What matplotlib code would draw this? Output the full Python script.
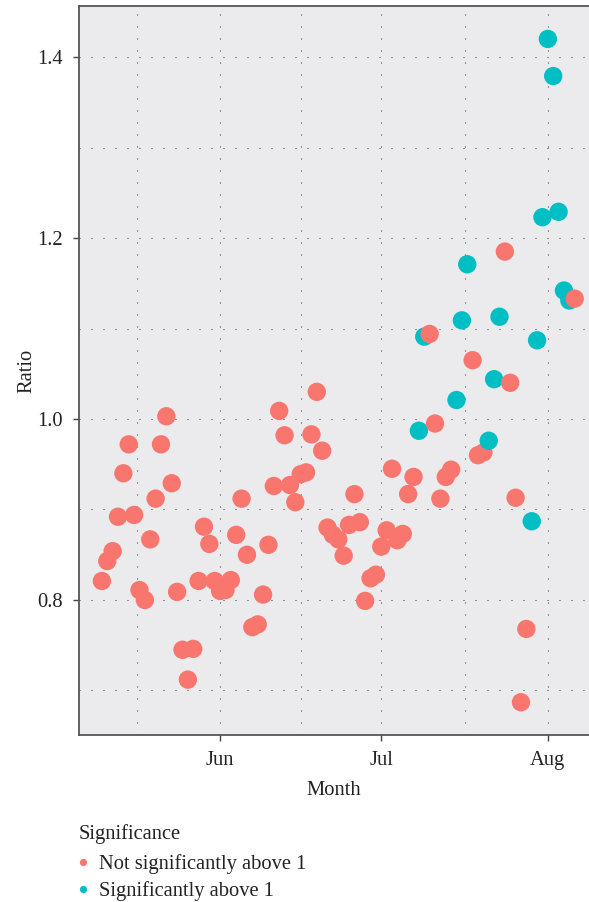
import matplotlib
matplotlib.use("Agg")
import matplotlib.pyplot as plt
import matplotlib.dates as mdates
from matplotlib.ticker import FixedLocator, MultipleLocator
from matplotlib.lines import Line2D
import numpy as np
import pandas as pd

# Daily ratio estimates, one per day starting 10 May
first_day = "2020-05-10"
ratio = [
    # May 10 - May 31
    0.821, 0.843, 0.854, 0.892, 0.940, 0.972, 0.894, 0.811, 0.800, 0.867, 0.912,
    0.972, 1.003, 0.929, 0.809, 0.745, 0.712, 0.746, 0.821, 0.881, 0.862, 0.821,
    # Jun 1 - Jun 30
    0.810, 0.811, 0.822, 0.872, 0.912, 0.850, 0.770, 0.773, 0.806, 0.861,
    0.926, 1.009, 0.982, 0.927, 0.908, 0.939, 0.941, 0.983, 1.030, 0.965,
    0.880, 0.872, 0.867, 0.849, 0.883, 0.917, 0.886, 0.799, 0.824, 0.828,
    # Jul 1 - Jul 31
    0.859, 0.877, 0.945, 0.866, 0.873, 0.917, 0.936, 0.987, 1.091, 1.094,
    0.995, 0.912, 0.936, 0.944, 1.021, 1.109, 1.171, 1.065, 0.960, 0.963,
    0.976, 1.044, 1.113, 1.185, 1.040, 0.913, 0.687, 0.768, 0.887, 1.087, 1.223,
    # Aug 1 - Aug 6
    1.420, 1.379, 1.229, 1.142, 1.131, 1.133,
]
# 1 = significantly above 1
significant = [
    0, 0, 0, 0, 0, 0, 0, 0, 0, 0, 0,
    0, 0, 0, 0, 0, 0, 0, 0, 0, 0, 0,
    0, 0, 0, 0, 0, 0, 0, 0, 0, 0,
    0, 0, 0, 0, 0, 0, 0, 0, 0, 0,
    0, 0, 0, 0, 0, 0, 0, 0, 0, 0,
    0, 0, 0, 0, 0, 0, 0, 1, 1, 0,
    0, 0, 0, 0, 1, 1, 1, 0, 0, 0,
    1, 1, 1, 0, 0, 0, 0, 0, 1, 1, 1,
    1, 1, 1, 1, 1, 0,
]
group_labels = ["Not significantly above 1", "Significantly above 1"]
group_colors = ["#F8766D", "#00BFC4"]
month_ticks = ["2020-06-01", "2020-07-01", "2020-08-01"]
month_labels = ["Jun", "Jul", "Aug"]
month_starts = ["2020-05-01", "2020-06-01", "2020-07-01", "2020-08-01"]

dates = pd.date_range(first_day, periods=len(ratio), freq="D")
xnum = mdates.date2num(dates.to_pydatetime())
point_colors = [group_colors[s] for s in significant]

plt.rcParams["font.family"] = ["Liberation Serif", "DejaVu Serif"]
FS = 14.8
TEXT = "#222222"

fig = plt.figure(figsize=(5.89, 9.02), dpi=100)
ax = fig.add_axes([79 / 589, 1 - 735 / 902, 1 - 79 / 589, (735 - 6) / 902])
ax.set_facecolor("#EBEBED")

# points drawn in date order so later days sit on top
ax.scatter(xnum, ratio, c=point_colors, s=175, linewidths=0, zorder=3)

# axis ranges
jun1 = mdates.datestr2num("2020-06-01")
ax.set_xlim(jun1 - 26.26, mdates.datestr2num("2020-08-01") + 7.66)
ax.set_ylim(0.6508, 1.4564)

# ticks and grid
tick_pos = [mdates.datestr2num(d) for d in month_ticks]
ax.xaxis.set_major_locator(FixedLocator(tick_pos))
ax.set_xticklabels(month_labels)
ms = [mdates.datestr2num(d) for d in month_starts]
ax.xaxis.set_minor_locator(FixedLocator([(a + b) / 2 for a, b in zip(ms[:-1], ms[1:])]))
ax.yaxis.set_major_locator(MultipleLocator(0.2))
ax.yaxis.set_minor_locator(MultipleLocator(0.1))
ax.yaxis.set_major_formatter(matplotlib.ticker.FormatStrFormatter("%.1f"))

ax.grid(which="both", color="#333333", linestyle=(0, (1, 11)), linewidth=0.72, zorder=1)
ax.set_axisbelow(True)
ax.tick_params(which="major", length=4.5, width=1.0, color="#444444",
               labelsize=FS, labelcolor=TEXT, pad=7)
ax.tick_params(which="minor", length=0)

for side in ("left", "bottom", "top"):
    ax.spines[side].set_color("#555555")
    ax.spines[side].set_linewidth(1.3)
ax.spines["right"].set_visible(False)

ax.set_xlabel("Month", fontsize=FS, color=TEXT, labelpad=8)
ax.set_ylabel("Ratio", fontsize=FS, color=TEXT, labelpad=1)

# legend below the panel
handles = [Line2D([], [], linestyle="none", marker="o", markersize=5.2,
                  markerfacecolor=c, markeredgewidth=0) for c in group_colors]
leg = fig.legend(handles, group_labels, title="Significance",
                 loc="upper left", bbox_to_anchor=(70 / 589, 1 - 816 / 902),
                 frameon=False, fontsize=FS, title_fontsize=FS,
                 handlelength=0.5, handletextpad=0.5, labelspacing=0.36,
                 alignment="left", borderaxespad=0)
leg._legend_box.sep = 7
for t in leg.get_texts():
    t.set_color(TEXT)
leg.get_title().set_color(TEXT)

fig.savefig("out.png", dpi=100)
